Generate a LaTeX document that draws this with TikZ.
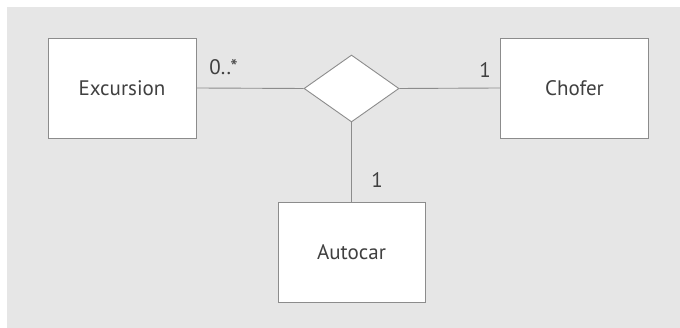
\documentclass[tikz,border=0pt]{standalone}
\usepackage{fontspec}
\setmainfont{PT Sans}
\usetikzlibrary{shapes.geometric}

\definecolor{fondo}{HTML}{E6E6E6}
\definecolor{borde}{HTML}{8C8C8C}
\definecolor{texto}{HTML}{404040}

\begin{document}
\begin{tikzpicture}[x=1pt,y=1pt,
	clase/.style={draw=borde, fill=white, line width=0.9pt, minimum width=148pt, minimum height=100pt, inner sep=0pt, text=texto, font=\fontsize{21}{24}\selectfont},
	rombo/.style={draw=borde, fill=white, line width=0.9pt, diamond, aspect=1.42, minimum width=95pt, minimum height=67pt, inner sep=0pt},
	mult/.style={text=texto, inner sep=0pt, font=\fontsize{21}{24}\selectfont},
	enlace/.style={draw=borde, line width=0.9pt}]

		\useasboundingbox (0,0) rectangle (680,328);
		\fill [fondo] (7,0) rectangle (680,321);

		\coordinate (E) at (122,240) ;
		\coordinate (C) at (574.5,240) ;
		\coordinate (R) at (351.5,239.5) ;
		\coordinate (A) at (351.5,76) ;

		% las clases y la asociacion ternaria
		\node [clase] (exc) at (E) {Excursion};
		\node [clase] (cho) at (C) {Chofer};
		\node [clase, minimum width=147pt] (aut) at (A) {Autocar};
		\node [rombo] (rel) at (R) {};

		\draw [enlace] (exc.east) -- (rel.west);
		\draw [enlace] (rel.east) -- (cho.west);
		\draw [enlace] (rel.south) -- (aut.north);

		% multiplicidades
		\node [mult] (m1) at (223.5,261) {0..*};
		\node [mult] (m2) at (485,258) {1};
		\node [mult] (m3) at (377,148) {1};

\end{tikzpicture}
\end{document}
